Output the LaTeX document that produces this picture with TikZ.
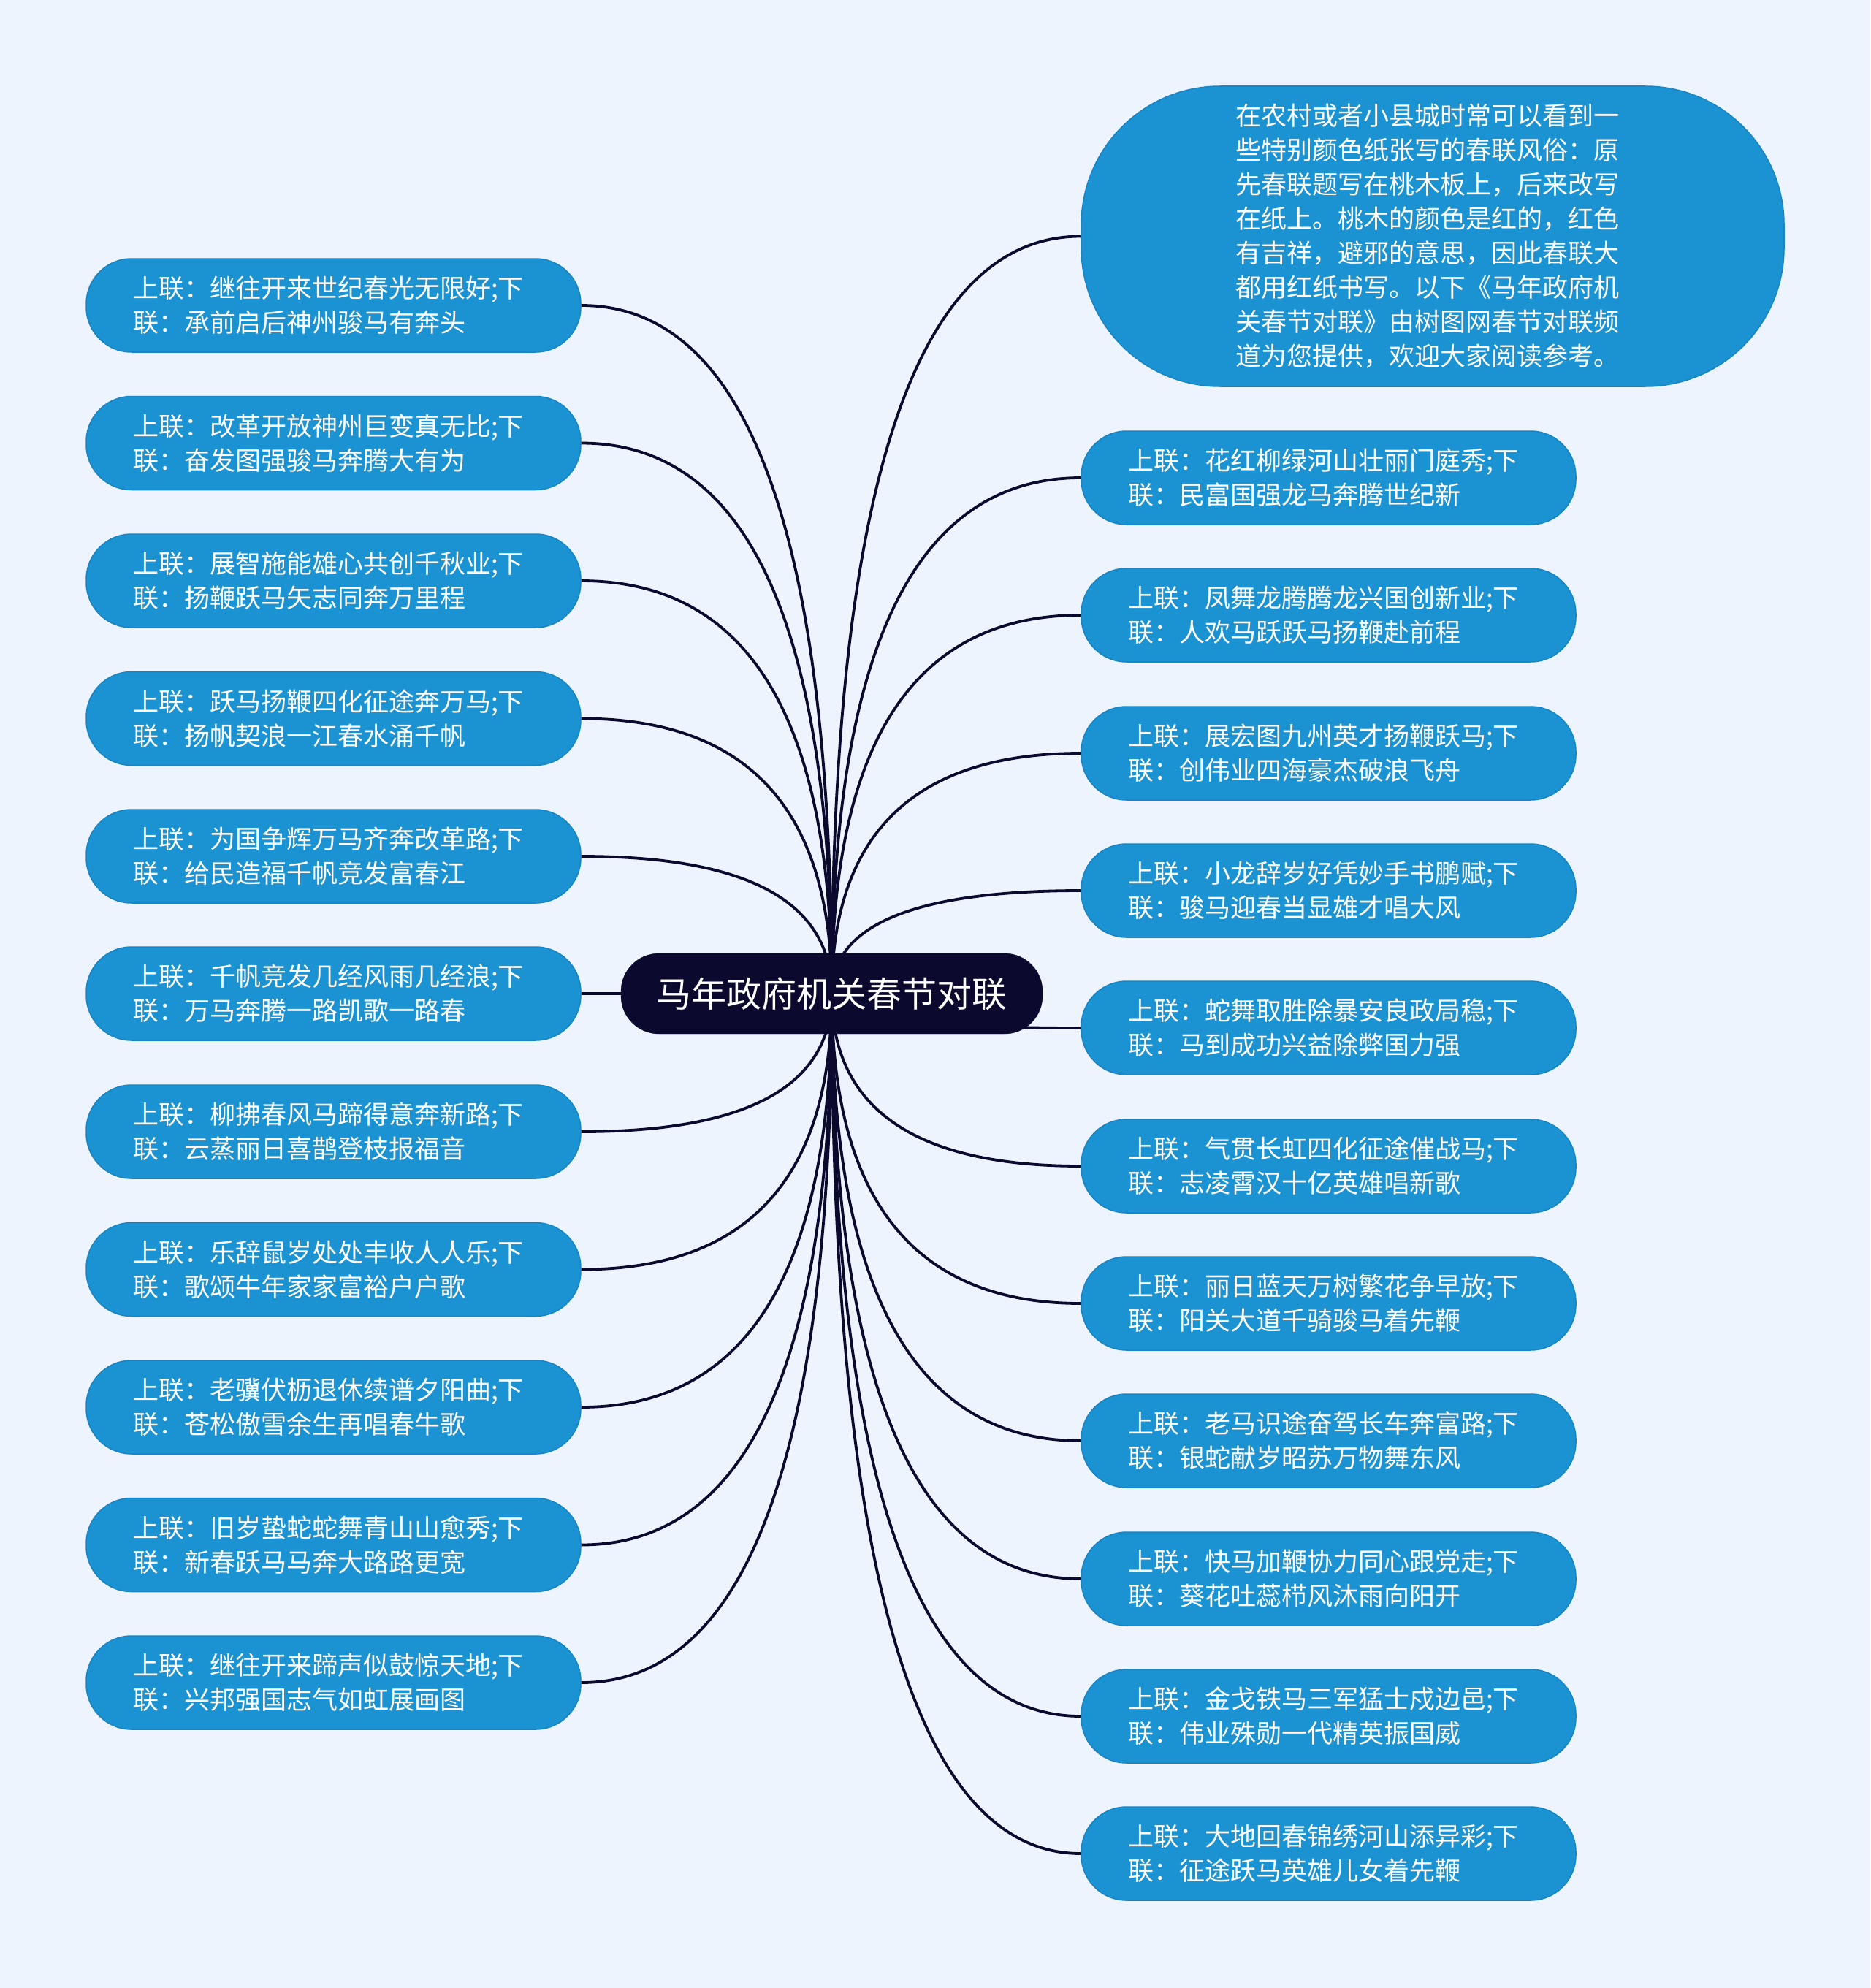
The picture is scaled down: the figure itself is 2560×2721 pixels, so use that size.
\documentclass[tikz,border=0pt]{standalone}
\usepackage{fontspec}
\newfontfamily\cjk{Noto Sans CJK SC}
\usetikzlibrary{calc,backgrounds}
\definecolor{bgc}{HTML}{EEF4FD}
\definecolor{leaf}{HTML}{1B92D2}
\definecolor{leafedge}{HTML}{1784C3}
\definecolor{rootc}{HTML}{0B0A2E}
\newcommand\myconn[2]{\draw[conn] (root.center) .. controls ($(root.center)!0.6667!(root.center|-#1.#2)$) and ($(#1.#2)!0.6667!(root.center|-#1.#2)$) .. (#1.#2);}
\begin{document}
\begin{tikzpicture}[x=1pt,y=-1pt,
  leafnode/.style={rectangle, rounded corners=62pt, fill=leaf, draw=leafedge, line width=1.5pt,
    text=white, font={\cjk\fontsize{35}{47}\selectfont}, text width=549pt, align=left,
    inner xsep=64pt, inner ysep=0pt, minimum height=128pt},
  bignode/.style={leafnode, rounded corners=190pt, text width=540pt, inner xsep=211pt, minimum height=411pt},
  rootnode/.style={rectangle, rounded corners=52pt, fill=rootc, draw=rootc, text=white,
    font={\cjk\fontsize{48}{56}\selectfont}, minimum width=577pt, minimum height=110pt, inner sep=0pt},
  conn/.style={draw=rootc, line width=3.8pt}]
\useasboundingbox (0,0) rectangle (2560,2721);
\begin{scope}[on background layer]
\fill[bgc] (0,0) rectangle (2560,2721);
\end{scope}

\node[rootnode] (root) at (1138.5,1360) {马年政府机关春节对联};

\node[bignode] (B) at (1961,323.5) {在农村或者小县城时常可以看到一\\些特别颜色纸张写的春联风俗：原\\先春联题写在桃木板上，后来改写\\在纸上。桃木的颜色是红的，红色\\有吉祥，避邪的意思，因此春联大\\都用红纸书写。以下《马年政府机\\关春节对联》由树图网春节对联频\\道为您提供，欢迎大家阅读参考。};

\node[leafnode] (L1) at (456.5,418) {上联：继往开来世纪春光无限好;下\\联：承前启后神州骏马有奔头};
\node[leafnode] (L2) at (456.5,606.5) {上联：改革开放神州巨变真无比;下\\联：奋发图强骏马奔腾大有为};
\node[leafnode] (L3) at (456.5,795) {上联：展智施能雄心共创千秋业;下\\联：扬鞭跃马矢志同奔万里程};
\node[leafnode] (L4) at (456.5,983.5) {上联：跃马扬鞭四化征途奔万马;下\\联：扬帆契浪一江春水涌千帆};
\node[leafnode] (L5) at (456.5,1172) {上联：为国争辉万马齐奔改革路;下\\联：给民造福千帆竞发富春江};
\node[leafnode] (L6) at (456.5,1360) {上联：千帆竞发几经风雨几经浪;下\\联：万马奔腾一路凯歌一路春};
\node[leafnode] (L7) at (456.5,1549) {上联：柳拂春风马蹄得意奔新路;下\\联：云蒸丽日喜鹊登枝报福音};
\node[leafnode] (L8) at (456.5,1737.5) {上联：乐辞鼠岁处处丰收人人乐;下\\联：歌颂牛年家家富裕户户歌};
\node[leafnode] (L9) at (456.5,1926) {上联：老骥伏枥退休续谱夕阳曲;下\\联：苍松傲雪余生再唱春牛歌};
\node[leafnode] (L10) at (456.5,2114.5) {上联：旧岁蛰蛇蛇舞青山山愈秀;下\\联：新春跃马马奔大路路更宽};
\node[leafnode] (L11) at (456.5,2303) {上联：继往开来蹄声似鼓惊天地;下\\联：兴邦强国志气如虹展画图};

\node[leafnode] (R1) at (1818.5,654) {上联：花红柳绿河山壮丽门庭秀;下\\联：民富国强龙马奔腾世纪新};
\node[leafnode] (R2) at (1818.5,842) {上联：凤舞龙腾腾龙兴国创新业;下\\联：人欢马跃跃马扬鞭赴前程};
\node[leafnode] (R3) at (1818.5,1031) {上联：展宏图九州英才扬鞭跃马;下\\联：创伟业四海豪杰破浪飞舟};
\node[leafnode] (R4) at (1818.5,1219) {上联：小龙辞岁好凭妙手书鹏赋;下\\联：骏马迎春当显雄才唱大风};
\node[leafnode] (R5) at (1818.5,1407) {上联：蛇舞取胜除暴安良政局稳;下\\联：马到成功兴益除弊国力强};
\node[leafnode] (R6) at (1818.5,1596) {上联：气贯长虹四化征途催战马;下\\联：志凌霄汉十亿英雄唱新歌};
\node[leafnode] (R7) at (1818.5,1784) {上联：丽日蓝天万树繁花争早放;下\\联：阳关大道千骑骏马着先鞭};
\node[leafnode] (R8) at (1818.5,1972) {上联：老马识途奋驾长车奔富路;下\\联：银蛇献岁昭苏万物舞东风};
\node[leafnode] (R9) at (1818.5,2161) {上联：快马加鞭协力同心跟党走;下\\联：葵花吐蕊栉风沐雨向阳开};
\node[leafnode] (R10) at (1818.5,2349) {上联：金戈铁马三军猛士戍边邑;下\\联：伟业殊勋一代精英振国威};
\node[leafnode] (R11) at (1818.5,2537) {上联：大地回春锦绣河山添异彩;下\\联：征途跃马英雄儿女着先鞭};

\begin{scope}[on background layer]
\myconn{B}{west}
\foreach \i in {1,...,11} {\myconn{L\i}{east}}
\foreach \i in {1,...,11} {\myconn{R\i}{west}}
\end{scope}
\end{tikzpicture}
\end{document}
